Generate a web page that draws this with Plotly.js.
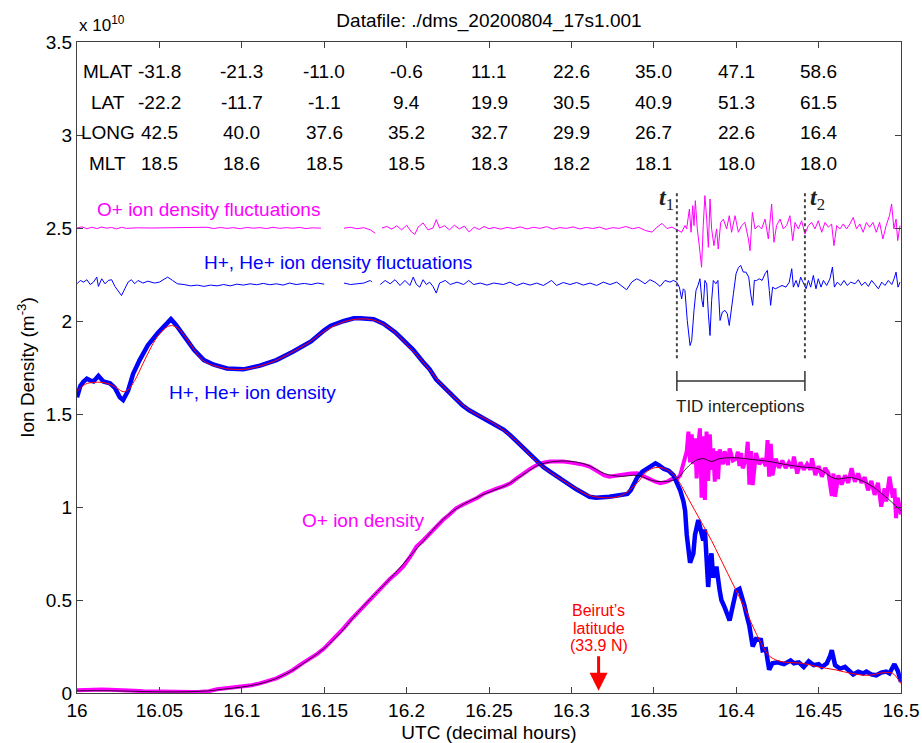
<!DOCTYPE html>
<html>
<head>
<meta charset="utf-8">
<script src="https://cdn.plot.ly/plotly-3.0.1.min.js"></script>
<style>html,body{margin:0;padding:0;background:#fff;}#chart{width:922px;height:743px;}</style>
</head>
<body>
<div id="chart"></div>
<script>
// ---------- data (units of 1e10 m^-3, time in decimal UTC hours) ----------
const xTickVals = [16, 16.05, 16.1, 16.15, 16.2, 16.25, 16.3, 16.35, 16.4, 16.45, 16.5];
const xTickText = ["16", "16.05", "16.1", "16.15", "16.2", "16.25", "16.3", "16.35", "16.4", "16.45", "16.5"];
const yTickVals = [0, 0.5, 1, 1.5, 2, 2.5, 3, 3.5];
const yTickText = ["0", "0.5", "1", "1.5", "2", "2.5", "3", "3.5"];

// ephemeris table
const ephemTimes = [16.05, 16.1, 16.15, 16.2, 16.25, 16.3, 16.35, 16.4, 16.45];
const rowLabels = ["MLAT", "LAT", "LONG", "MLT"];
const mlat = ["-31.8", "-21.3", "-11.0", "-0.6", "11.1", "22.6", "35.0", "47.1", "58.6"];
const lat  = ["-22.2", "-11.7", "-1.1", "9.4", "19.9", "30.5", "40.9", "51.3", "61.5"];
const lon  = ["42.5", "40.0", "37.6", "35.2", "32.7", "29.9", "26.7", "22.6", "16.4"];
const mlt  = ["18.5", "18.6", "18.5", "18.5", "18.3", "18.2", "18.1", "18.0", "18.0"];

// H+, He+ ion density
const hT = [16.000,16.002,16.004,16.006,16.008,16.010,16.013,16.016,16.020,16.023,16.026,16.028,16.031,16.034,16.038,16.043,16.049,16.053,16.057,16.060,16.065,16.071,16.077,16.083,16.091,16.101,16.111,16.121,16.131,16.142,16.150,16.154,16.162,16.168,16.172,16.180,16.186,16.190,16.193,16.196,16.200,16.204,16.210,16.214,16.218,16.222,16.226,16.230,16.234,16.238,16.243,16.247,16.251,16.255,16.259,16.263,16.267,16.271,16.275,16.279,16.283,16.287,16.291,16.295,16.299,16.303,16.307,16.311,16.315,16.319,16.323,16.327,16.331,16.334,16.336,16.338,16.340,16.343,16.346,16.349,16.351,16.353,16.356,16.359,16.362,16.364,16.366,16.368,16.369,16.370,16.372,16.374,16.375,16.377,16.379,16.380,16.381,16.382,16.383,16.384,16.385,16.386,16.388,16.390,16.391,16.393,16.396,16.398,16.400,16.402,16.403,16.405,16.406,16.408,16.410,16.412,16.415,16.416,16.418,16.419,16.420,16.422,16.425,16.429,16.433,16.435,16.438,16.441,16.444,16.447,16.450,16.452,16.455,16.457,16.458,16.460,16.463,16.466,16.469,16.471,16.474,16.477,16.479,16.482,16.485,16.488,16.491,16.493,16.495,16.496,16.498,16.500];
const hD = [1.59,1.65,1.675,1.69,1.68,1.675,1.705,1.675,1.665,1.64,1.59,1.575,1.625,1.715,1.79,1.87,1.935,1.97,2.01,1.98,1.915,1.845,1.79,1.765,1.745,1.74,1.76,1.79,1.835,1.89,1.95,1.975,2.0,2.015,2.015,2.01,1.985,1.96,1.94,1.915,1.88,1.845,1.78,1.74,1.685,1.65,1.61,1.58,1.545,1.52,1.495,1.475,1.46,1.44,1.415,1.385,1.35,1.315,1.28,1.25,1.215,1.19,1.165,1.14,1.115,1.095,1.075,1.055,1.05,1.05,1.055,1.06,1.065,1.07,1.09,1.125,1.16,1.19,1.205,1.225,1.235,1.225,1.205,1.195,1.17,1.13,1.09,1.03,0.98,0.85,0.70,0.75,0.85,0.93,0.87,0.82,0.88,0.68,0.57,0.70,0.75,0.62,0.68,0.55,0.50,0.46,0.39,0.47,0.55,0.56,0.535,0.47,0.43,0.36,0.25,0.29,0.285,0.23,0.235,0.17,0.125,0.16,0.165,0.155,0.175,0.16,0.165,0.14,0.17,0.15,0.155,0.14,0.16,0.20,0.23,0.15,0.13,0.14,0.12,0.10,0.115,0.105,0.115,0.10,0.095,0.11,0.115,0.105,0.14,0.155,0.12,0.06];

// smooth fit of H+, He+ density (red)
const hFitT = [16.000,16.005,16.010,16.015,16.020,16.025,16.028,16.031,16.035,16.040,16.045,16.050,16.055,16.058,16.062,16.066,16.070,16.075,16.080,16.090,16.100,16.110,16.120,16.130,16.140,16.150,16.160,16.170,16.180,16.190,16.200,16.210,16.220,16.230,16.240,16.250,16.260,16.270,16.280,16.290,16.300,16.310,16.320,16.330,16.340,16.345,16.350,16.355,16.360,16.365,16.370,16.375,16.380,16.385,16.390,16.395,16.400,16.405,16.410,16.415,16.420,16.425,16.430,16.440,16.450,16.460,16.470,16.480,16.490,16.495,16.500];
const hFit = [1.62,1.66,1.67,1.67,1.66,1.635,1.62,1.63,1.68,1.77,1.86,1.93,1.97,1.975,1.955,1.91,1.86,1.80,1.77,1.745,1.74,1.755,1.785,1.83,1.88,1.945,1.99,2.01,2.005,1.96,1.875,1.78,1.67,1.58,1.51,1.465,1.405,1.325,1.235,1.17,1.115,1.065,1.05,1.06,1.13,1.185,1.21,1.21,1.19,1.14,1.06,0.98,0.90,0.82,0.73,0.64,0.55,0.46,0.36,0.27,0.20,0.175,0.165,0.16,0.14,0.125,0.105,0.095,0.11,0.105,0.05];

// O+ ion density
const oT = [16.000,16.005,16.010,16.015,16.020,16.025,16.030,16.035,16.040,16.045,16.050,16.055,16.060,16.065,16.070,16.075,16.080,16.085,16.090,16.095,16.101,16.106,16.111,16.116,16.121,16.126,16.131,16.136,16.142,16.146,16.150,16.154,16.158,16.162,16.166,16.170,16.174,16.178,16.182,16.186,16.190,16.194,16.198,16.202,16.206,16.210,16.214,16.218,16.222,16.226,16.230,16.234,16.238,16.243,16.247,16.251,16.255,16.259,16.263,16.267,16.271,16.275,16.279,16.283,16.287,16.291,16.295,16.299,16.303,16.307,16.311,16.314,16.317,16.320,16.323,16.327,16.331,16.336,16.340,16.344,16.348,16.351,16.354,16.358,16.361,
16.364,16.366,16.368,16.370,16.371,16.372,16.373,16.374,16.375,16.376,16.377,16.378,16.379,16.380,16.381,16.382,16.383,16.384,16.385,16.386,16.387,16.388,16.389,16.390,16.392,16.393,16.395,16.396,16.398,16.400,16.401,16.402,16.403,16.404,16.406,16.407,16.408,16.409,16.410,16.412,16.414,16.416,16.418,16.419,16.420,16.421,16.422,16.424,16.426,16.428,16.430,16.432,16.434,16.435,16.437,16.439,16.441,16.443,16.445,16.446,16.448,16.450,16.452,16.454,16.456,16.458,16.459,16.460,16.462,16.464,16.466,16.468,16.470,16.472,16.474,16.476,16.478,16.480,16.482,16.484,16.486,16.488,16.490,16.491,16.493,16.495,16.496,16.497,16.498,16.500];
const oD = [0.015,0.018,0.016,0.019,0.017,0.016,0.018,0.012,0.010,0.009,0.006,0.005,0.005,0.005,0.006,0.007,0.010,0.020,0.026,0.030,0.034,0.042,0.052,0.064,0.079,0.10,0.124,0.155,0.186,0.212,0.240,0.275,0.312,0.35,0.392,0.43,0.464,0.505,0.545,0.58,0.615,0.645,0.68,0.73,0.787,0.82,0.859,0.895,0.93,0.96,0.993,1.012,1.029,1.05,1.073,1.088,1.10,1.112,1.127,1.155,1.181,1.205,1.226,1.238,1.244,1.246,1.244,1.24,1.235,1.228,1.217,1.20,1.181,1.17,1.163,1.168,1.177,1.18,1.181,1.165,1.145,1.136,1.128,1.136,1.15,
1.15,1.17,1.24,1.30,1.405,1.24,1.39,1.23,1.369,1.154,1.33,1.423,1.05,1.38,1.038,1.405,1.14,1.39,1.20,1.315,1.136,1.30,1.15,1.31,1.23,1.30,1.226,1.315,1.25,1.26,1.297,1.22,1.29,1.208,1.26,1.351,1.12,1.30,1.118,1.29,1.23,1.26,1.22,1.36,1.163,1.34,1.17,1.26,1.21,1.25,1.21,1.24,1.21,1.271,1.18,1.24,1.20,1.23,1.20,1.262,1.172,1.22,1.163,1.21,1.18,1.06,1.18,1.056,1.17,1.12,1.17,1.13,1.208,1.136,1.18,1.13,1.16,1.09,1.14,1.065,1.13,1.002,1.10,1.03,1.163,1.05,1.10,0.94,1.05,0.96];

// smooth fit of O+ density (black)
const oFitT = [16.000,16.020,16.040,16.060,16.080,16.090,16.100,16.110,16.120,16.130,16.140,16.150,16.160,16.170,16.180,16.190,16.200,16.210,16.220,16.230,16.240,16.250,16.260,16.270,16.280,16.290,16.300,16.310,16.320,16.330,16.340,16.350,16.360,16.365,16.370,16.375,16.380,16.385,16.390,16.400,16.410,16.420,16.430,16.440,16.450,16.460,16.470,16.480,16.490,16.500];
const oFit = [0.012,0.012,0.008,0.006,0.012,0.022,0.032,0.048,0.075,0.118,0.175,0.24,0.325,0.43,0.525,0.615,0.715,0.815,0.915,0.99,1.04,1.08,1.115,1.17,1.225,1.245,1.245,1.225,1.18,1.165,1.17,1.14,1.14,1.16,1.21,1.248,1.26,1.245,1.26,1.265,1.255,1.245,1.228,1.215,1.205,1.152,1.158,1.125,1.06,0.98];

// O+ ion density fluctuations (drawn around 2.5)
const fluOT = [16.000,16.003,16.006,16.009,16.012,16.015,16.018,16.021,16.024,16.027,16.030,16.036,16.045,16.055,16.065,16.075,16.079,16.083,16.087,16.091,16.095,16.099,16.103,16.107,16.111,16.115,16.119,16.123,16.127,16.131,16.135,16.139,16.143,16.148,16.151,16.162,16.166,16.170,16.174,16.178,16.181,16.182,16.185,16.188,16.191,16.194,16.197,16.200,16.203,16.205,16.207,16.210,16.213,16.216,16.218,16.220,16.223,16.226,16.229,16.232,16.235,16.238,16.241,16.244,16.247,16.250,16.253,16.257,16.261,16.265,16.269,16.273,16.277,16.281,16.285,16.289,16.293,16.297,16.301,16.305,16.309,16.313,16.317,16.321,16.325,16.329,16.333,16.337,16.341,16.345,16.349,16.352,16.355,16.358,16.361,
16.3649,16.3669,16.3689,16.3699,16.3716,16.3726,16.3736,16.3744,16.3752,16.3764,16.3776,16.3790,16.3800,16.3810,16.3821,16.3831,16.3841,16.3851,16.3865,16.3881,16.3891,16.3906,16.3922,16.3942,16.3958,16.3972,16.3993,16.4013,16.4033,16.4053,16.4074,16.4084,16.4098,16.4114,16.4134,16.4154,16.4175,16.4195,16.4215,16.4229,16.4245,16.4266,16.4286,16.4306,16.4326,16.4343,16.4357,16.4377,16.4397,16.4417,16.4438,
16.4458,16.4478,16.4498,16.4519,16.4539,16.4559,16.4579,16.4593,16.4610,16.4630,16.4650,16.4670,16.4690,16.4710,16.4730,16.4750,16.4770,16.4790,16.4810,16.4830,16.4850,16.4870,16.4890,16.4910,16.4930,16.4943,16.4957,16.4970,16.4980,16.4994];
const fluO = [2.500,2.506,2.496,2.504,2.497,2.505,2.499,2.503,2.495,2.504,2.498,2.501,2.500,2.501,2.500,2.500,2.504,2.497,2.503,2.498,2.502,2.496,2.503,2.499,2.502,2.497,2.504,2.498,2.502,2.499,2.503,2.497,2.501,2.499,null,2.499,2.504,2.496,2.502,2.490,2.472,null,2.500,2.508,2.494,2.512,2.490,2.515,2.478,2.466,2.505,2.527,2.490,2.500,2.545,2.500,2.512,2.490,2.515,2.495,2.510,2.478,2.505,2.492,2.508,2.496,2.503,2.494,2.503,2.497,2.506,2.495,2.504,2.498,2.507,2.494,2.502,2.498,2.506,2.495,2.503,2.497,2.505,2.493,2.502,2.498,2.508,2.496,2.503,2.486,2.478,2.505,2.525,2.497,2.505,
2.486,2.477,2.513,2.495,2.602,2.477,2.620,2.513,2.647,2.495,2.405,2.289,2.513,2.674,2.548,2.396,2.656,2.495,2.405,2.495,2.387,2.530,2.548,2.495,2.566,2.477,2.566,2.477,2.513,2.530,2.441,2.378,2.584,2.495,2.513,2.495,2.548,2.441,2.629,2.423,2.513,2.548,2.495,2.513,2.566,2.432,2.530,2.495,2.539,2.468,2.513,
2.530,2.495,2.539,2.477,2.530,2.504,2.522,2.405,2.513,2.495,2.522,2.495,2.522,2.557,2.495,2.522,2.477,2.530,2.504,2.530,2.477,2.530,2.441,2.513,2.566,2.629,2.495,2.548,2.432,2.513];

// H+, He+ ion density fluctuations (drawn around 2.2)
const fluHT = [16.000,16.002,16.004,16.006,16.008,16.010,16.012,16.013,16.015,16.017,16.019,16.021,16.023,16.025,16.027,16.029,16.031,16.033,16.035,16.037,16.040,16.043,16.047,16.050,16.053,16.055,16.058,16.061,16.065,16.069,16.073,16.077,16.081,16.085,16.089,16.093,16.097,16.101,16.105,16.109,16.113,16.117,16.121,16.125,16.129,16.133,16.138,16.142,16.146,16.150,16.151,16.162,16.166,16.170,16.174,16.178,16.179,16.181,16.184,16.187,16.190,16.193,16.196,16.199,16.202,16.204,16.206,16.208,16.210,16.212,16.214,16.216,16.218,16.220,16.2235,16.2265,16.2306,16.2346,16.2377,16.2407,16.2447,16.2488,16.2528,16.2587,16.2627,16.2668,16.2708,16.2749,16.2789,16.2830,16.2880,16.2910,16.2951,16.2991,16.3032,16.3072,16.3113,16.3153,16.3194,16.3234,16.3275,16.3305,16.3335,16.3366,16.3396,16.3416,16.3447,16.3477,16.3507,16.3538,16.3568,16.3598,16.3619,16.3639,16.3655,16.3669,16.3679,16.3689,16.3703,16.3720,16.3730,16.3744,16.3756,16.3768,16.3780,16.3792,16.3800,16.3810,16.3821,16.3831,16.3841,16.3851,16.3861,16.3877,16.3889,16.3902,16.3916,16.3932,16.3946,16.3958,16.3970,16.3983,16.3999,16.4013,16.4027,16.4043,16.4059,16.4076,16.4088,16.4100,16.4110,16.4124,16.4140,16.4157,16.4175,16.4189,16.4201,16.4209,16.4221,16.4237,16.4258,16.4278,16.4302,16.4322,16.4337,16.4347,16.4363,16.4377,16.4391,16.4407,16.4424,16.4438,16.4452,16.4468,16.4484,16.4498,16.4515,16.4529,16.4549,16.4569,16.4584,16.4596,16.4614,16.4634,16.4654,16.4674,16.4695,16.4721,16.4741,16.4761,16.4782,16.4802,16.4822,16.4842,16.4863,16.4883,16.4903,16.4923,16.4944,16.4958,16.4970,16.4982,16.4994];
const fluH = [2.200,2.218,2.209,2.222,2.196,2.209,2.236,2.186,2.227,2.200,2.218,2.222,2.186,2.164,2.137,2.173,2.209,2.222,2.200,2.218,2.204,2.214,2.204,2.209,2.227,2.236,2.218,2.200,2.196,2.189,2.193,2.186,2.193,2.189,2.196,2.189,2.198,2.193,2.200,2.195,2.202,2.195,2.200,2.193,2.204,2.196,2.202,2.196,2.204,2.198,null,2.204,2.196,2.200,2.204,2.218,2.209,null,2.196,2.218,2.200,2.222,2.191,2.218,2.191,2.236,2.196,2.182,2.222,2.196,2.209,2.186,2.150,2.204,2.218,2.196,2.209,2.196,2.218,2.196,2.204,2.193,2.204,2.196,2.209,2.191,2.204,2.193,2.204,2.191,2.218,2.191,2.207,2.196,2.207,2.193,2.204,2.191,2.209,2.196,2.209,2.186,2.168,2.209,2.227,2.218,2.200,2.222,2.209,2.186,2.218,2.209,2.218,2.209,2.182,2.119,2.173,2.164,2.003,1.868,1.895,2.057,2.164,2.191,2.227,2.110,2.075,2.218,2.200,2.039,1.922,2.110,2.218,2.200,2.218,2.003,2.048,2.057,2.039,1.976,2.075,2.146,2.254,2.286,2.299,2.263,2.263,2.236,2.146,2.084,2.218,2.218,2.227,2.218,2.254,2.272,2.164,2.084,2.182,2.173,2.182,2.191,2.182,2.209,2.281,2.182,2.218,2.182,2.236,2.209,2.173,2.218,2.182,2.245,2.173,2.227,2.182,2.218,2.191,2.227,2.290,2.182,2.209,2.191,2.218,2.191,2.209,2.200,2.222,2.191,2.209,2.186,2.218,2.196,2.173,2.209,2.191,2.218,2.196,2.227,2.263,2.182,2.209];

// TID interval and Beirut marker (decimal hours)
const tidStart = 16.364, tidEnd = 16.4417;
const beirutTime = 16.3165;

// ---------- plotting ----------
const FONT = "Liberation Sans, Arial, sans-serif";
const traces = [
  {x: fluOT, y: fluO, mode: "lines", line: {color: "#FF00FF", width: 1}, hoverinfo: "skip"},
  {x: fluHT, y: fluH, mode: "lines", line: {color: "#0000FF", width: 1}, hoverinfo: "skip"},
  {x: oT, y: oD, mode: "lines", line: {color: "#FF00FF", width: 4}, hoverinfo: "skip"},
  {x: hT, y: hD, mode: "lines", line: {color: "#0000FF", width: 4.5}, hoverinfo: "skip"},
  {x: oFitT, y: oFit, mode: "lines", line: {color: "#000000", width: 0.8, shape: "spline"}, hoverinfo: "skip"},
  {x: hFitT, y: hFit, mode: "lines", line: {color: "#FF0000", width: 1, shape: "spline"}, hoverinfo: "skip"}
];

const annotations = [];
const rowVals = [mlat, lat, lon, mlt];
const rowY = [3.339, 3.177, 3.011, 2.849];
rowLabels.forEach((lab, r) => {
  annotations.push({x: 16.0188, y: rowY[r], xref: "x", yref: "y", text: lab, showarrow: false,
    font: {family: FONT, size: 19, color: "#000"}, xanchor: "center", yanchor: "middle"});
  ephemTimes.forEach((t, i) => {
    annotations.push({x: t, y: rowY[r], xref: "x", yref: "y", text: rowVals[r][i], showarrow: false,
      font: {family: FONT, size: 19, color: "#000"}, xanchor: "center", yanchor: "middle"});
  });
});
annotations.push(
  {xref: "paper", yref: "paper", x: 0, y: 1, yshift: 5, xanchor: "left", yanchor: "bottom",
   text: "x 10<sup>10</sup>", showarrow: false, font: {family: FONT, size: 17, color: "#000"}},
  {x: 16.0109, y: 2.597, text: "O+ ion density fluctuations", showarrow: false, xanchor: "left", yanchor: "middle",
   font: {family: FONT, size: 19, color: "#FF00FF"}},
  {x: 16.0758, y: 2.312, text: "H+, He+ ion density fluctuations", showarrow: false, xanchor: "left", yanchor: "middle",
   font: {family: FONT, size: 19, color: "#0000FF"}},
  {x: 16.0546, y: 1.618, text: "H+, He+ ion density", showarrow: false, xanchor: "left", yanchor: "middle",
   font: {family: FONT, size: 19, color: "#0000FF"}},
  {x: 16.1353, y: 0.925, text: "O+ ion density", showarrow: false, xanchor: "left", yanchor: "middle",
   font: {family: FONT, size: 19, color: "#FF00FF"}},
  {x: beirutTime, y: 0.441, text: "Beirut\u2019s", showarrow: false, xanchor: "center", yanchor: "middle",
   font: {family: FONT, size: 16, color: "#FF0000"}},
  {x: beirutTime, y: 0.349, text: "latitude", showarrow: false, xanchor: "center", yanchor: "middle",
   font: {family: FONT, size: 16, color: "#FF0000"}},
  {x: beirutTime, y: 0.253, text: "(33.9 N)", showarrow: false, xanchor: "center", yanchor: "middle",
   font: {family: FONT, size: 16, color: "#FF0000"}},
  {x: beirutTime, y: 0.012, ax: 0, ay: -36, text: "", showarrow: true, arrowhead: 2, arrowsize: 1.2,
   arrowwidth: 3, arrowcolor: "#FF0000", standoff: 0},
  {x: tidStart, y: 2.655, text: "<b><i>t</i></b><sub>1</sub>", showarrow: false, xanchor: "right", yanchor: "middle", xshift: -1,
   font: {family: "Liberation Serif, DejaVu Serif, serif", size: 24, color: "#222"}},
  {x: tidEnd, y: 2.655, text: "<b><i>t</i></b><sub>2</sub>", showarrow: false, xanchor: "left", yanchor: "middle", xshift: 3,
   font: {family: "Liberation Serif, DejaVu Serif, serif", size: 24, color: "#222"}},
  {x: (tidStart + tidEnd) / 2, y: 1.543, text: "TID interceptions", showarrow: false, xanchor: "center", yanchor: "middle",
   font: {family: FONT, size: 17, color: "#222"}}
);

const shapes = [
  {type: "line", xref: "x", yref: "y", x0: tidStart, x1: tidStart, y0: 1.80, y1: 2.688, line: {color: "#444", width: 2, dash: "dot"}},
  {type: "line", xref: "x", yref: "y", x0: tidEnd, x1: tidEnd, y0: 1.80, y1: 2.688, line: {color: "#444", width: 2, dash: "dot"}},
  {type: "line", xref: "x", yref: "y", x0: tidStart, x1: tidEnd, y0: 1.677, y1: 1.677, line: {color: "#333", width: 1.5}},
  {type: "line", xref: "x", yref: "y", x0: tidStart, x1: tidStart, y0: 1.624, y1: 1.731, line: {color: "#333", width: 1.5}},
  {type: "line", xref: "x", yref: "y", x0: tidEnd, x1: tidEnd, y0: 1.624, y1: 1.731, line: {color: "#333", width: 1.5}}
];

const axisCommon = {
  showgrid: false, zeroline: false, showline: true, linecolor: "#404040", linewidth: 1,
  mirror: "ticks", ticks: "inside", ticklen: 6, tickcolor: "#404040", tickwidth: 1,
  tickfont: {family: FONT, size: 19, color: "#000"}, fixedrange: true
};

const layout = {
  width: 922, height: 743,
  margin: {l: 77, r: 21, t: 42, b: 50, pad: 0},
  paper_bgcolor: "#fff", plot_bgcolor: "#fff",
  showlegend: false,
  title: {text: "Datafile: ./dms_20200804_17s1.001", font: {family: FONT, size: 19, color: "#000"},
    xref: "paper", x: 0.5, xanchor: "center", yref: "container", y: 1 - 20 / 743, yanchor: "middle"},
  xaxis: Object.assign({}, axisCommon, {
    range: [16, 16.5], tickmode: "array", tickvals: xTickVals, ticktext: xTickText,
    title: {text: "UTC (decimal hours)", font: {family: FONT, size: 19, color: "#000"}, standoff: 6}
  }),
  yaxis: Object.assign({}, axisCommon, {
    range: [0, 3.5], tickmode: "array", tickvals: yTickVals, ticktext: yTickText,
    title: {text: "Ion Density (m<sup>-3</sup>)", font: {family: FONT, size: 19, color: "#000"}, standoff: 6}
  }),
  annotations: annotations,
  shapes: shapes
};

Plotly.newPlot("chart", traces, layout, {displayModeBar: false, staticPlot: true});
</script>
</body>
</html>
